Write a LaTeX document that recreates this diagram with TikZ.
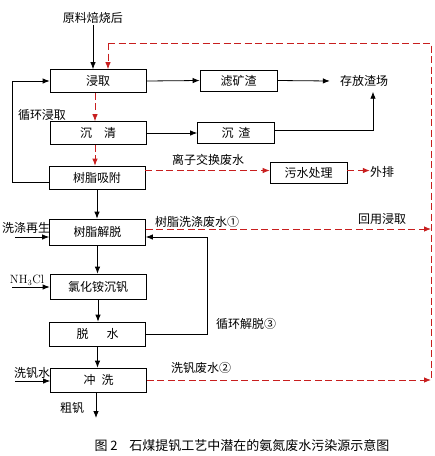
\documentclass[tikz,border=0pt]{standalone}
\usepackage{fontspec}
\newfontfamily\cjk{Noto Sans CJK SC}
\usetikzlibrary{arrows.meta,calc}
\definecolor{dred}{RGB}{200,30,30}
\begin{document}
\begin{tikzpicture}[x=1pt,y=-1pt,
  every node/.style={font=\cjk\fontsize{12}{14}\selectfont, inner sep=1pt},
  box/.style={draw, line width=0.8pt, minimum width=96pt, minimum height=23pt, inner sep=0pt},
  sbox/.style={draw, line width=0.8pt, minimum width=77pt, minimum height=21pt, inner sep=0pt},
  arr/.style={line width=0.8pt, -{Latex[length=7pt,width=5.5pt]}},
  ln/.style={line width=0.8pt},
  rdash/.style={dred, line width=0.8pt, dash pattern=on 7pt off 3.5pt},
  rarr/.style={rdash, -{Latex[length=7pt,width=5.5pt]}}]
\useasboundingbox[fill=white] (0,0) rectangle (435,456);
% boxes
\node[box] (jq) at (98,81) {浸取};
\node[sbox] (lkz) at (238.5,80.5) {滤矿渣};
\node[box] (cq) at (98,133) {沉\hspace{1em}清};
\node[sbox] (cz) at (236,132.5) {沉\hspace{0.4em}渣};
\node[box] (szxf) at (97,177.5) {树脂吸附};
\node[sbox] (wscl) at (308.5,172.5) {污水处理};
\node[box, minimum height=26pt] (szjt) at (97.5,232) {树脂解脱};
\node[box, minimum height=25pt] (lhac) at (98,286.5) {氯化铵沉钒};
\node[box, minimum height=24pt] (ts) at (97.5,334) {脱\hspace{1.5em}水};
\node[box, minimum height=24pt] (cx) at (98.5,380) {冲\hspace{0.5em}洗};
% plain texts
\node (src) at (93,18) {原料焙烧后};
\node[inner sep=0pt] (cfzc) at (364,81) {存放渣场};
\node (xhjq) at (42,115) {循环浸取};
\node (lzjh) at (208,160) {离子交换废水};
\node[inner sep=0pt] (wp) at (382,172) {外排};
\node (xdzs) at (26,228) {洗涤再生};
\node (szxd) at (197,222) {树脂洗涤废水①};
\node (hyjq) at (382,219) {回用浸取};
\node[font=\fontsize{12}{14}\selectfont] (nh) at (27,280) {NH$_3$Cl};
\node (xhjt) at (246,324) {循环解脱③};
\node (xfs) at (32,373) {洗钒水};
\node (xffs) at (201,368) {洗钒废水②};
\node (cf) at (72,408) {粗钒};
\node[font=\cjk\fontsize{13}{15}\selectfont] (cap) at (242,446) {图 2\hspace{0.9em}石煤提钒工艺中潜在的氨氮废水污染源示意图};
% coordinates
\coordinate (r1) at (108,43);
\coordinate (r2) at (431,43);
\coordinate (r3) at (431,380);
\coordinate (lp) at (12,182);
\coordinate (win) at (15,237);
\coordinate (nin) at (12,287);
\coordinate (xin) at (15,381);
\coordinate (cr) at (207,237);
\coordinate (out) at (96,418);
% black connectors
\draw[arr] (src.south) -- (src.south |- jq.north);
\draw[arr] (jq.east) -- (lkz.west);
\draw[arr] (lkz.east) -- ([xshift=-10pt]cfzc.west);
\draw[arr] (cq.east) -- (cq.east -| cz.west);
\draw[arr] ([yshift=2pt]cz.east) -| ([xshift=9pt,yshift=-5pt]cfzc.south);
\draw[arr] (lp -| szxf.west) -- (lp) |- (jq.west);
\draw[arr] (szxf.south) -- (szxf.south |- szjt.north);
\draw[arr] (win) -- (win -| szjt.west);
\draw[arr] (ts.east) -| (cr) -- (cr -| szjt.east);
\draw[arr] (szjt.south) -- (szjt.south |- lhac.north);
\draw[arr] (nin) -- (nin -| lhac.west);
\draw[arr] (lhac.south) -- (lhac.south |- ts.north);
\draw[arr] (ts.south) -- (ts.south |- cx.north);
\draw[arr] (xin) -- (xin -| cx.west);
\draw[arr] (cx.south -| out) -- (out);
% red dashed connectors
\draw[rarr] (r1) -- (r1 |- jq.north);
\draw[rdash] (r1) -- (r2) -- (r3);
\draw[rarr] ([xshift=-3pt]jq.south) -- ([xshift=-3pt]jq.south |- cq.north);
\draw[rarr] ([xshift=-3pt]cq.south) -- ([xshift=-3pt]cq.south |- szxf.north);
\draw[rarr] ([yshift=7pt]szxf.east) -- ([yshift=7pt]szxf.east -| wscl.west);
\draw[rarr] ([yshift=2pt]wscl.east) -- ([yshift=2pt]wscl.east -| wp.west);
\draw[rarr] ([yshift=3pt]szjt.east) -- ([yshift=3pt]szjt.east -| r2);
\draw[rarr] (cx.east) -- (cx.east -| r2);
\end{tikzpicture}
\end{document}
